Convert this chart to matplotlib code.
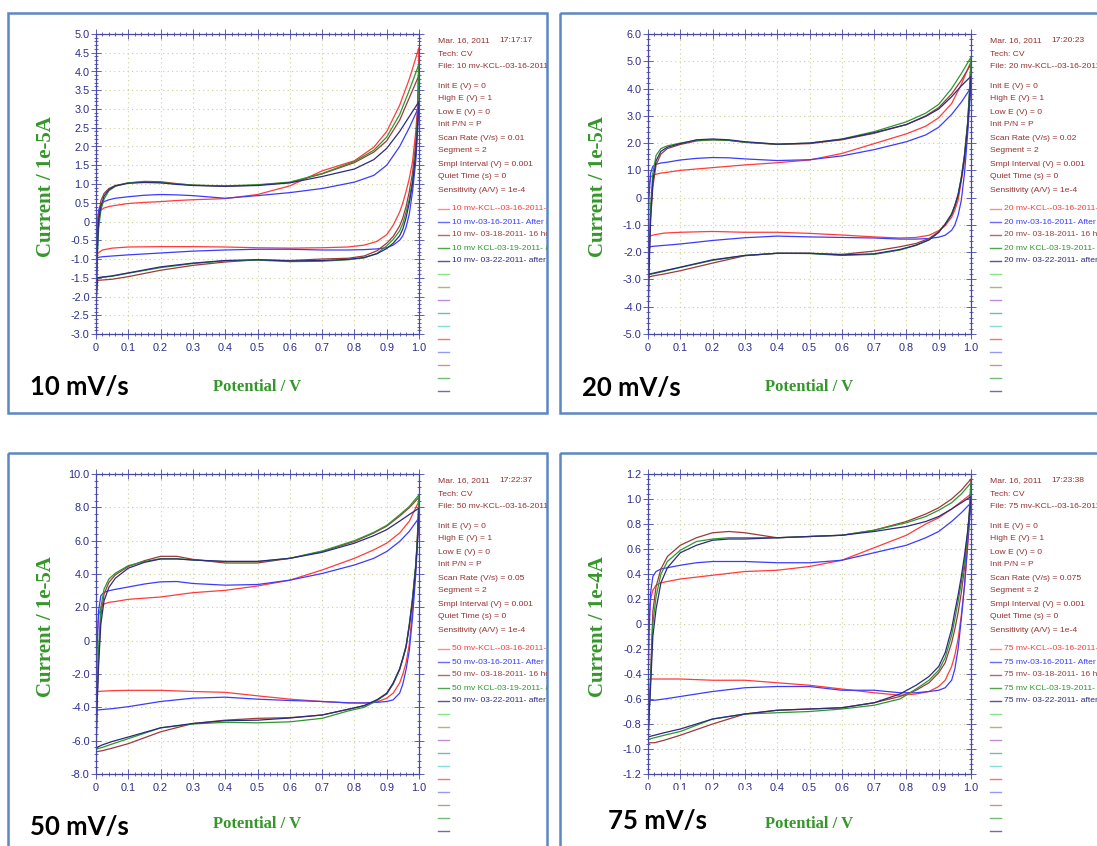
"""
Cyclic voltammograms of the KCl cell at four scan rates, laid out as the
four CHI instrument panels (curves, run header and trace list).
"""
import matplotlib
matplotlib.use("Agg")
import matplotlib.pyplot as plt
from matplotlib import font_manager
from matplotlib.patches import Rectangle
from matplotlib.ticker import MultipleLocator, FuncFormatter

# ── Data ──────────────────────────────────────────────────────────────────────
# potential grid of the anodic (0 -> 1 V) and cathodic (1 -> 0 V) segments
V_FWD = [0, 0.003, 0.008, 0.015, 0.025, 0.04, 0.06, 0.1, 0.15, 0.2, 0.25, 0.3,
         0.4, 0.5, 0.6, 0.7, 0.8, 0.86, 0.9, 0.94, 0.97, 1.0]
V_REV = [1.0, 0.995, 0.99, 0.98, 0.97, 0.96, 0.95, 0.94, 0.92, 0.9, 0.87, 0.83,
         0.78, 0.7, 0.6, 0.5, 0.4, 0.3, 0.2, 0.1, 0.05, 0.02, 0.005, 0]

# current per trace, order: before PV, after PV, 16 hours, 03-19, 03-22
fwd10 = [
    [-0.9, 0.0, 0.22, 0.3, 0.36, 0.4, 0.43, 0.48, 0.51, 0.53, 0.56, 0.58, 0.61, 0.72, 0.95, 1.35, 1.62, 1.98, 2.4, 3.1, 3.8, 4.64],
    [-2.0, -0.5, 0.3, 0.45, 0.53, 0.58, 0.62, 0.66, 0.7, 0.72, 0.71, 0.69, 0.62, 0.69, 0.77, 0.88, 1.05, 1.23, 1.5, 2.0, 2.5, 3.07],
    [-1.8, -0.8, 0.1, 0.55, 0.75, 0.88, 0.96, 1.03, 1.07, 1.06, 1.01, 0.97, 0.94, 0.97, 1.04, 1.27, 1.57, 1.85, 2.15, 2.7, 3.3, 3.9],
    [-3.0, -1.2, -0.2, 0.3, 0.6, 0.82, 0.94, 1.03, 1.05, 1.04, 1.0, 0.97, 0.95, 0.98, 1.05, 1.28, 1.6, 1.9, 2.25, 2.85, 3.5, 4.2],
    [-2.2, -1.0, 0.0, 0.4, 0.68, 0.85, 0.95, 1.02, 1.04, 1.03, 0.99, 0.96, 0.94, 0.96, 1.03, 1.2, 1.4, 1.65, 1.95, 2.4, 2.8, 3.2],
]
rev10 = [
    [4.64, 3.0, 2.4, 1.6, 1.15, 0.8, 0.5, 0.25, -0.1, -0.35, -0.53, -0.63, -0.68, -0.7, -0.71, -0.7, -0.68, -0.67, -0.67, -0.68, -0.71, -0.76, -0.85, -1.2],
    [3.07, 2.3, 1.6, 0.8, 0.2, -0.15, -0.38, -0.5, -0.63, -0.7, -0.73, -0.75, -0.76, -0.76, -0.74, -0.74, -0.76, -0.79, -0.84, -0.89, -0.92, -0.94, -0.96, -1.8],
    [3.9, 2.8, 2.1, 1.3, 0.8, 0.4, 0.1, -0.12, -0.4, -0.58, -0.78, -0.92, -0.98, -1.0, -1.04, -1.02, -1.08, -1.17, -1.3, -1.47, -1.54, -1.56, -1.57, -2.0],
    [4.2, 2.6, 1.9, 1.1, 0.6, 0.25, -0.05, -0.25, -0.48, -0.65, -0.85, -0.97, -1.02, -1.06, -1.07, -1.03, -1.05, -1.12, -1.23, -1.38, -1.46, -1.49, -1.5, -2.2],
    [3.2, 2.5, 1.8, 1.0, 0.5, 0.1, -0.2, -0.38, -0.58, -0.72, -0.86, -0.96, -1.01, -1.04, -1.05, -1.02, -1.04, -1.11, -1.21, -1.37, -1.45, -1.48, -1.5, -2.0],
]
fwd20 = [
    [-0.3, 0.4, 0.75, 0.82, 0.86, 0.9, 0.93, 1.0, 1.05, 1.1, 1.15, 1.2, 1.28, 1.38, 1.62, 1.98, 2.34, 2.62, 2.93, 3.45, 4.15, 5.0],
    [-1.8, 0.0, 0.9, 1.15, 1.22, 1.27, 1.3, 1.38, 1.44, 1.47, 1.46, 1.42, 1.36, 1.39, 1.53, 1.76, 2.05, 2.3, 2.58, 3.05, 3.5, 4.04],
    [-4.3, -2.5, -0.8, 0.4, 1.2, 1.6, 1.8, 1.95, 2.08, 2.12, 2.1, 2.03, 1.95, 1.98, 2.12, 2.36, 2.68, 3.0, 3.3, 3.8, 4.3, 4.9],
    [-3.5, -2.0, -0.3, 0.9, 1.55, 1.8, 1.9, 2.0, 2.1, 2.12, 2.1, 2.03, 1.96, 2.0, 2.15, 2.42, 2.78, 3.1, 3.42, 4.0, 4.55, 5.15],
    [-4.6, -2.8, -0.8, 0.6, 1.35, 1.7, 1.85, 1.98, 2.12, 2.15, 2.12, 2.05, 1.96, 2.0, 2.14, 2.38, 2.68, 2.98, 3.25, 3.7, 4.1, 4.45],
]
rev20 = [
    [5.0, 3.6, 2.6, 1.36, 0.6, -0.1, -0.45, -0.72, -1.03, -1.21, -1.38, -1.46, -1.48, -1.44, -1.37, -1.31, -1.27, -1.27, -1.24, -1.27, -1.3, -1.36, -1.41, -1.45],
    [4.04, 3.3, 2.4, 0.9, -0.1, -0.65, -1.0, -1.2, -1.38, -1.45, -1.5, -1.52, -1.52, -1.48, -1.46, -1.44, -1.41, -1.47, -1.57, -1.7, -1.75, -1.78, -1.8, -1.82],
    [4.9, 3.8, 2.8, 1.55, 0.7, 0.05, -0.3, -0.6, -0.97, -1.25, -1.5, -1.68, -1.8, -1.96, -2.08, -2.04, -2.04, -2.13, -2.4, -2.68, -2.8, -2.86, -2.9, -2.95],
    [5.15, 3.9, 2.8, 1.6, 0.75, 0.12, -0.28, -0.6, -0.97, -1.27, -1.55, -1.75, -1.92, -2.08, -2.12, -2.05, -2.04, -2.12, -2.3, -2.56, -2.7, -2.78, -2.82, -2.85],
    [4.45, 3.6, 2.7, 1.5, 0.7, 0.1, -0.3, -0.62, -0.98, -1.27, -1.55, -1.74, -1.9, -2.06, -2.1, -2.04, -2.04, -2.12, -2.28, -2.55, -2.68, -2.76, -2.8, -2.82],
]
fwd50 = [
    [-3.1, 0.0, 1.5, 2.0, 2.2, 2.3, 2.35, 2.48, 2.55, 2.62, 2.75, 2.88, 3.02, 3.28, 3.63, 4.24, 4.94, 5.45, 5.85, 6.46, 7.17, 8.38],
    [-4.2, -0.5, 1.8, 2.7, 2.9, 3.0, 3.08, 3.22, 3.4, 3.53, 3.55, 3.43, 3.33, 3.37, 3.63, 4.03, 4.54, 4.94, 5.35, 5.95, 6.56, 7.37],
    [-7.8, -4.0, -1.0, 1.5, 2.8, 3.5, 3.95, 4.45, 4.8, 5.06, 5.06, 4.88, 4.66, 4.66, 4.94, 5.35, 5.95, 6.46, 6.87, 7.47, 7.98, 8.6],
    [-6.6, -3.5, -0.5, 2.0, 3.1, 3.7, 4.05, 4.5, 4.75, 4.92, 4.92, 4.84, 4.74, 4.74, 4.94, 5.38, 6.0, 6.5, 6.92, 7.55, 8.05, 8.75],
    [-6.5, -4.0, -1.5, 1.0, 2.4, 3.2, 3.75, 4.35, 4.7, 4.9, 4.9, 4.84, 4.76, 4.76, 4.94, 5.3, 5.85, 6.3, 6.66, 7.17, 7.57, 7.95],
]
rev50 = [
    [8.38, 6.2, 4.4, 1.9, -0.2, -1.33, -2.0, -2.54, -3.15, -3.45, -3.68, -3.74, -3.73, -3.65, -3.51, -3.31, -3.1, -3.05, -2.98, -2.98, -3.0, -3.03, -3.05, -3.1],
    [7.37, 5.8, 4.0, 1.4, -0.6, -1.73, -2.6, -3.15, -3.55, -3.65, -3.7, -3.74, -3.73, -3.65, -3.59, -3.51, -3.39, -3.45, -3.65, -3.96, -4.08, -4.13, -4.16, -4.2],
    [8.6, 6.0, 4.5, 2.5, 0.9, -0.4, -1.1, -1.75, -2.6, -3.2, -3.55, -3.9, -4.12, -4.46, -4.62, -4.66, -4.77, -4.97, -5.47, -6.18, -6.45, -6.6, -6.65, -6.7],
    [8.75, 6.2, 4.6, 2.6, 1.0, -0.3, -1.05, -1.7, -2.55, -3.18, -3.6, -4.0, -4.22, -4.66, -4.87, -4.93, -4.9, -5.0, -5.23, -5.88, -6.2, -6.4, -6.48, -6.55],
    [7.95, 5.9, 4.4, 2.4, 0.9, -0.35, -1.05, -1.7, -2.55, -3.15, -3.55, -3.9, -4.12, -4.46, -4.64, -4.77, -4.8, -4.97, -5.23, -5.78, -6.05, -6.25, -6.38, -6.45],
]
fwd75 = [
    [-0.3, 0.05, 0.2, 0.27, 0.31, 0.33, 0.34, 0.36, 0.375, 0.39, 0.405, 0.42, 0.43, 0.46, 0.51, 0.61, 0.71, 0.8, 0.85, 0.92, 0.98, 1.04],
    [-0.6, -0.1, 0.25, 0.38, 0.42, 0.44, 0.45, 0.47, 0.49, 0.5, 0.5, 0.5, 0.49, 0.49, 0.51, 0.57, 0.63, 0.69, 0.74, 0.82, 0.89, 0.97],
    [-0.96, -0.75, -0.4, 0.1, 0.3, 0.44, 0.54, 0.63, 0.69, 0.73, 0.74, 0.73, 0.69, 0.7, 0.71, 0.75, 0.82, 0.88, 0.93, 1.0, 1.07, 1.16],
    [-0.93, -0.75, -0.45, 0.0, 0.22, 0.4, 0.5, 0.59, 0.66, 0.68, 0.69, 0.69, 0.69, 0.7, 0.71, 0.75, 0.81, 0.86, 0.91, 0.97, 1.04, 1.13],
    [-0.91, -0.75, -0.5, -0.1, 0.12, 0.33, 0.45, 0.57, 0.63, 0.67, 0.68, 0.68, 0.69, 0.7, 0.71, 0.74, 0.78, 0.82, 0.86, 0.92, 0.97, 1.02],
]
rev75 = [
    [1.04, 0.82, 0.63, 0.31, 0.07, -0.12, -0.25, -0.34, -0.45, -0.5, -0.54, -0.56, -0.57, -0.55, -0.52, -0.49, -0.47, -0.45, -0.45, -0.44, -0.44, -0.44, -0.44, -0.45],
    [0.97, 0.82, 0.66, 0.31, 0.04, -0.2, -0.36, -0.45, -0.51, -0.53, -0.54, -0.55, -0.55, -0.53, -0.53, -0.5, -0.5, -0.51, -0.54, -0.58, -0.6, -0.61, -0.61, -0.62],
    [1.16, 0.9, 0.72, 0.45, 0.25, 0.09, -0.04, -0.15, -0.31, -0.39, -0.47, -0.53, -0.58, -0.63, -0.67, -0.68, -0.69, -0.72, -0.8, -0.89, -0.93, -0.95, -0.95, -0.96],
    [1.13, 0.9, 0.74, 0.5, 0.33, 0.18, 0.04, -0.09, -0.27, -0.37, -0.45, -0.52, -0.6, -0.65, -0.68, -0.7, -0.71, -0.72, -0.76, -0.86, -0.89, -0.91, -0.92, -0.93],
    [1.02, 0.88, 0.75, 0.55, 0.38, 0.23, 0.1, -0.04, -0.23, -0.34, -0.42, -0.49, -0.56, -0.63, -0.67, -0.68, -0.69, -0.72, -0.76, -0.84, -0.87, -0.89, -0.9, -0.91],
]

RATES = ["10", "20", "50", "75"]
RUN_TIMES = ["17:17:17", "17:20:23", "17:22:37", "17:23:38"]
SCAN_RATES = ["0.01", "0.02", "0.05", "0.075"]
CURRENT_UNITS = ["1e-5A", "1e-5A", "1e-5A", "1e-4A"]
Y_LIMITS = [(-3.0, 5.0), (-5.0, 6.0), (-8.0, 10.0), (-1.2, 1.2)]
Y_STEPS = [0.5, 1.0, 2.0, 0.2]
TRACE_NAMES = ["mv-KCL--03-16-2011-Before", "mv-03-16-2011- After PV",
               "mv- 03-18-2011- 16 hours", "mv KCL-03-19-2011- after",
               "mv- 03-22-2011- after 60"]

# ── Style ─────────────────────────────────────────────────────────────────────
W, H = 1097, 846
LINE_COLORS = ["#ff3b3b", "#3b3bff", "#9c3a3a", "#2e962e", "#2b2b7e"]
DASH_COLORS = ["#ff8c8c", "#6a6aff", "#b86a6a", "#4aa84a", "#55559e"]
SPARE_DASHES = ["#86e486", "#bab474", "#c48ad4", "#74baba", "#86dada",
                "#f27676", "#9a9af2", "#cc9494", "#76ba76", "#6e6eaa"]
AXIS_BLUE = "#4848a8"
TICK_BLUE = "#2c2c8c"
HEADER_RED = "#93312f"
LABEL_GREEN = "#35962a"
FRAME_BLUE = "#5b87c2"


def pick_font(*names):
    for name in names:
        try:
            font_manager.findfont(name, fallback_to_default=False)
            return name
        except ValueError:
            continue
    return "DejaVu Sans"


NARROW = pick_font("Liberation Sans Narrow", "Arial Narrow", "Liberation Sans")
SERIF = pick_font("Liberation Serif", "DejaVu Serif")
BADGE = pick_font("Lato", "Open Sans", "DejaVu Sans")
is_narrow = "Narrow" in NARROW
META_SIZE = 7.3 if is_narrow else 6.1
TICK_SIZE = 9.0 if is_narrow else 7.8
plt.rcParams["font.family"] = [NARROW, "DejaVu Sans"]


def px_rect(x0, y0, x1, y1):
    return [x0 / W, 1 - y1 / H, (x1 - x0) / W, (y1 - y0) / H]


def tick_fmt(v, pos):
    return "0" if abs(v) < 1e-9 else f"{v:.1f}"


fig = plt.figure(figsize=(W / 100, H / 100), dpi=100)
fig.patch.set_facecolor("white")

# overlay in pixel units for frames, headers and trace lists
bg = fig.add_axes([0, 0, 1, 1], zorder=0)
bg.set_xlim(0, W)
bg.set_ylim(H, 0)
bg.axis("off")

fg = fig.add_axes([0, 0, 1, 1], zorder=5)
fg.set_xlim(0, W)
fg.set_ylim(H, 0)
fg.axis("off")
fg.patch.set_visible(False)

offsets = [(0, 0), (552, 0), (0, 440), (552, 440)]
badge_pos = [(30, 387), (582, 388), (30, 827), (608, 821)]
curves = [(fwd10, rev10), (fwd20, rev20), (fwd50, rev50), (fwd75, rev75)]

for i, (ox, oy) in enumerate(offsets):
    left, top = ox == 0, oy == 0

    # panel frame
    x0, y0 = 7.5 + ox, 13.5 + oy
    x1 = 546.5 if left else W + 20
    y1 = 413.5 if top else H + 30
    frame = Rectangle((x0, y0), x1 - x0, y1 - y0, fill=False,
                      ec=FRAME_BLUE, lw=1.8, zorder=1)
    bg.add_patch(frame)

    # voltammogram
    ax = fig.add_axes(px_rect(96 + ox, 34 + oy, 419 + ox, 334 + oy), zorder=2)
    fwd, rev = curves[i]
    for k, color in enumerate(LINE_COLORS):
        ax.plot(V_FWD + V_REV, fwd[k] + rev[k], color=color, lw=0.9)

    lo, hi = Y_LIMITS[i]
    ax.set_xlim(0, 1.0)
    ax.set_ylim(lo, hi)
    ax.xaxis.set_major_locator(MultipleLocator(0.1))
    ax.xaxis.set_minor_locator(MultipleLocator(0.02))
    ax.yaxis.set_major_locator(MultipleLocator(Y_STEPS[i]))
    ax.yaxis.set_minor_locator(MultipleLocator(Y_STEPS[i] / 5))
    ax.xaxis.set_major_formatter(FuncFormatter(tick_fmt))
    ax.yaxis.set_major_formatter(FuncFormatter(tick_fmt))
    ax.tick_params(which="both", direction="inout", top=True, right=True,
                   color=AXIS_BLUE, width=0.6, labelcolor=TICK_BLUE,
                   labelsize=TICK_SIZE)
    ax.tick_params(which="major", length=7)
    ax.tick_params(which="minor", length=3.5)
    ax.tick_params(axis="y", pad=1)
    ax.tick_params(axis="x", pad=3)
    ax.grid(True, which="major", color="#cfcf98", ls=(0, (1, 3)), lw=0.8)
    for s in ax.spines.values():
        s.set_color(AXIS_BLUE)
        s.set_linewidth(0.9)

    # axis titles
    bg.text(46 + ox, 187 + oy, f"Current / {CURRENT_UNITS[i]}", rotation=90,
            ha="center", va="center", fontsize=15, fontweight="bold",
            family=SERIF, color=LABEL_GREEN)
    bg.text(257 + ox, 387 if top else 824, "Potential / V", ha="center",
            va="center", fontsize=12, fontweight="bold", family=SERIF,
            color=LABEL_GREEN)

    # run header
    tx = 438 + ox
    header = [(0, 41, "Mar. 16, 2011"), (61, 41, RUN_TIMES[i]),
              (0, 54, "Tech: CV"),
              (0, 67, f"File: {RATES[i]} mv-KCL--03-16-2011-Before")]
    params = ["Init E (V) = 0", "High E (V) = 1", "Low E (V) = 0",
              "Init P/N = P", f"Scan Rate (V/s) = {SCAN_RATES[i]}",
              "Segment = 2", "Smpl Interval (V) = 0.001",
              "Quiet Time (s) = 0", "Sensitivity (A/V) = 1e-4"]
    header += [(0, 86 + 13 * j, p) for j, p in enumerate(params)]
    for dx, y, line in header:
        t = bg.text(tx + dx, y + oy, line, ha="left", va="center",
                    fontsize=META_SIZE, color=HEADER_RED, clip_on=True)
        t.set_clip_path(frame)

    # trace list
    for j in range(15):
        y = 209 + 13 * j + oy
        dash = DASH_COLORS[j] if j < 5 else SPARE_DASHES[j - 5]
        bg.plot([tx, tx + 11], [y, y], color=dash, lw=1.0)
        if j < 5:
            t = bg.text(tx + 14, y, f"{RATES[i]} {TRACE_NAMES[j]}", ha="left",
                        va="center", fontsize=META_SIZE,
                        color=LINE_COLORS[j], clip_on=True)
            t.set_clip_path(frame)

    # scan-rate tag
    bx, by = badge_pos[i]
    if i == 3:
        fg.add_patch(Rectangle((600, 790), 162, 60, fc="white", ec="none"))
    fg.text(bx, by, f"{RATES[i]} mV/s", ha="left", va="center", fontsize=18.5,
            fontweight="bold", family=BADGE, color="black")

fig.savefig("out.png", dpi=100)
